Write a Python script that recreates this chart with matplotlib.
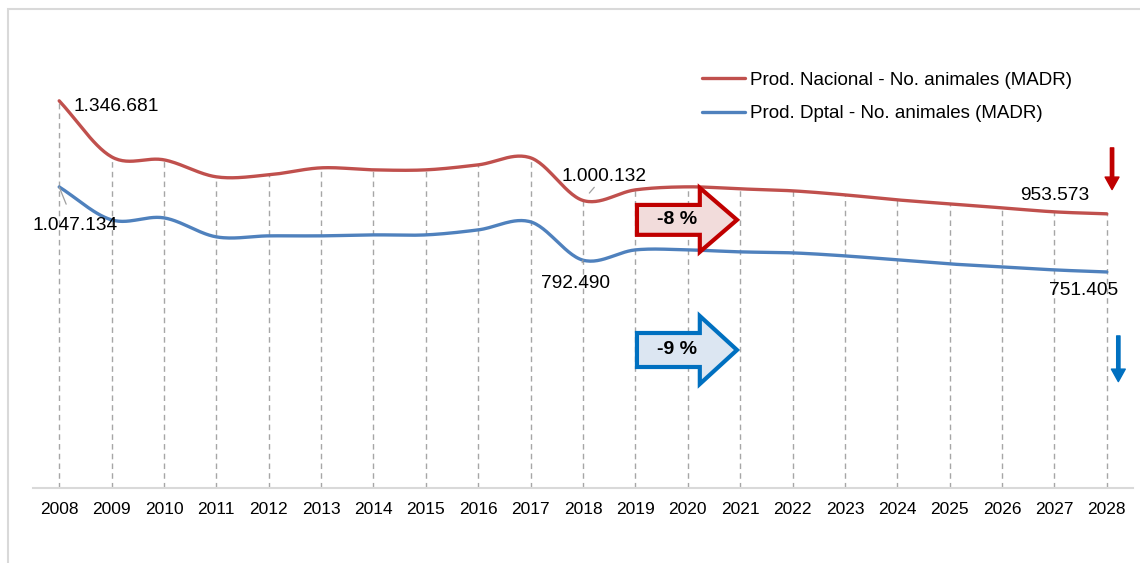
import numpy as np
import matplotlib
matplotlib.use("Agg")
import matplotlib.pyplot as plt
from matplotlib.patches import Polygon, Rectangle

plt.rcParams['font.family'] = ['Liberation Sans', 'DejaVu Sans']

# datos
years = list(range(2008, 2029))
nacional = [1346681, 1151900, 1141400, 1082300, 1089200, 1113600, 1106600, 1106600,
            1124000, 1148400, 1000132, 1037000, 1047500, 1040500, 1033600, 1019600,
            1002200, 988300, 974400, 960500, 953573]
dptal = [1047134, 932600, 939600, 873500, 877000, 877000, 880400, 880400,
         897800, 925700, 792490, 828200, 828200, 821300, 817800, 807400,
         793400, 779500, 769100, 758600, 751405]
labels = ["Prod. Nacional - No. animales (MADR)", "Prod. Dptal - No. animales (MADR)"]
red = "#c0504d"
blue = "#4f81bd"


def suave(x, y, n=30):
    # catmull-rom, como la linea suavizada de excel
    x = np.asarray(x, float)
    y = np.asarray(y, float)
    px = np.concatenate([[2 * x[0] - x[1]], x, [2 * x[-1] - x[-2]]])
    py = np.concatenate([[2 * y[0] - y[1]], y, [2 * y[-1] - y[-2]]])
    xs, ys = [], []
    t = np.linspace(0, 1, n)
    for i in range(1, len(px) - 2):
        for p, out in ((px, xs), (py, ys)):
            p0, p1, p2, p3 = p[i - 1], p[i], p[i + 1], p[i + 2]
            out.extend(0.5 * ((2 * p1) + (-p0 + p2) * t + (2 * p0 - 5 * p1 + 4 * p2 - p3) * t ** 2
                              + (-p0 + 3 * p1 - 3 * p2 + p3) * t ** 3))
    return xs, ys


fig = plt.figure(figsize=(11.4, 5.63), dpi=100)
ax = fig.add_axes([33 / 1140, 75 / 563, 1100 / 1140, 460 / 563])

# marco del grafico
fig.add_artist(Rectangle((8 / 1140, -0.1), 1.2, (563 - 9) / 563 + 0.1, transform=fig.transFigure,
                         fill=False, edgecolor="#d9d9d9", linewidth=1.5))

ax.vlines(years, 0, nacional, colors="#a6a6a6", linestyles=(0, (4, 3)), linewidth=1, zorder=1)

sx, sy = suave(years, nacional)
ax.plot(sx, sy, color=red, linewidth=2.4, label=labels[0], zorder=3, solid_capstyle='round')
sx, sy = suave(years, dptal)
ax.plot(sx, sy, color=blue, linewidth=2.4, label=labels[1], zorder=3, solid_capstyle='round')

ax.set_xlim(2007.5, 2028.5)
ax.set_ylim(0, 1600000)
ax.set_xticks(years)
ax.set_xticklabels([str(y) for y in years], fontsize=12.5)
ax.tick_params(axis='x', length=0, pad=10)
ax.set_yticks([])
for s in ["top", "right", "left"]:
    ax.spines[s].set_visible(False)
ax.spines["bottom"].set_color("#d9d9d9")
ax.spines["bottom"].set_linewidth(1.5)


def fmt(v):
    return f"{v:,}".replace(",", ".")


lab_kw = dict(fontsize=13.8, color="black", va="center", zorder=5)
ax.text(2008.27, nacional[0] - 20000, fmt(nacional[0]), ha="left", **lab_kw)
ax.annotate(fmt(dptal[0]), xy=(2008, dptal[0]), xytext=(2008.3, dptal[0] - 135000),
            ha="center", arrowprops=dict(arrowstyle="-", color="#a0a0a0", lw=0.9,
                                         shrinkA=8, shrinkB=0), **lab_kw)
ax.annotate(fmt(nacional[10]), xy=(2018, nacional[10]), xytext=(2018.4, nacional[10] + 85000),
            ha="center", arrowprops=dict(arrowstyle="-", color="#a0a0a0", lw=0.9,
                                         shrinkA=0, shrinkB=7), **lab_kw)
ax.annotate(fmt(dptal[10]), xy=(2018, dptal[10]), xytext=(2017.85, dptal[10] - 80000),
            ha="center", arrowprops=dict(arrowstyle="-", color="#a0a0a0", lw=0.9,
                                         shrinkA=7, shrinkB=0), **lab_kw)
ax.text(2027.0, nacional[-1] + 63000, fmt(nacional[-1]), ha="center", **lab_kw)
ax.text(2027.55, dptal[-1] - 65000, fmt(dptal[-1]), ha="center", **lab_kw)


def flecha(y_mid, body_h, head_h, face, edge, txt):
    x0, xh, xt = 2019.03, 2020.23, 2020.94
    pts = [(x0, y_mid + body_h / 2), (xh, y_mid + body_h / 2), (xh, y_mid + head_h / 2),
           (xt, y_mid), (xh, y_mid - head_h / 2), (xh, y_mid - body_h / 2),
           (x0, y_mid - body_h / 2)]
    ax.add_patch(Polygon(pts, closed=True, facecolor=face, edgecolor=edge, linewidth=3,
                         joinstyle="miter", zorder=4))
    ax.text(2019.8, y_mid, txt, fontsize=14, fontweight="bold", ha="center", va="center", zorder=5)


flecha(932600, 104000, 222700, "#f2dcdb", "#c00000", "-8 %")
flecha(480000, 118300, 236600, "#dce6f2", "#0070c0", "-9 %")

# flechas hacia abajo
ax.annotate("", xy=(2028.1, 1038000), xytext=(2028.1, 1183000),
            arrowprops=dict(arrowstyle="simple,head_width=1.0,head_length=0.9,tail_width=0.24",
                            color="#c00000", shrinkA=0, shrinkB=0), zorder=5)
ax.annotate("", xy=(2028.22, 370000), xytext=(2028.22, 529000),
            arrowprops=dict(arrowstyle="simple,head_width=1.0,head_length=0.9,tail_width=0.24",
                            color="#0070c0", shrinkA=0, shrinkB=0), zorder=5)

ax.legend(loc="upper left", bbox_to_anchor=(652 / 1100, (488 - 55) / 460), frameon=False,
          fontsize=13.5, handlelength=2.3, handletextpad=0.25, labelspacing=0.85)

fig.savefig("out.png", dpi=100)
